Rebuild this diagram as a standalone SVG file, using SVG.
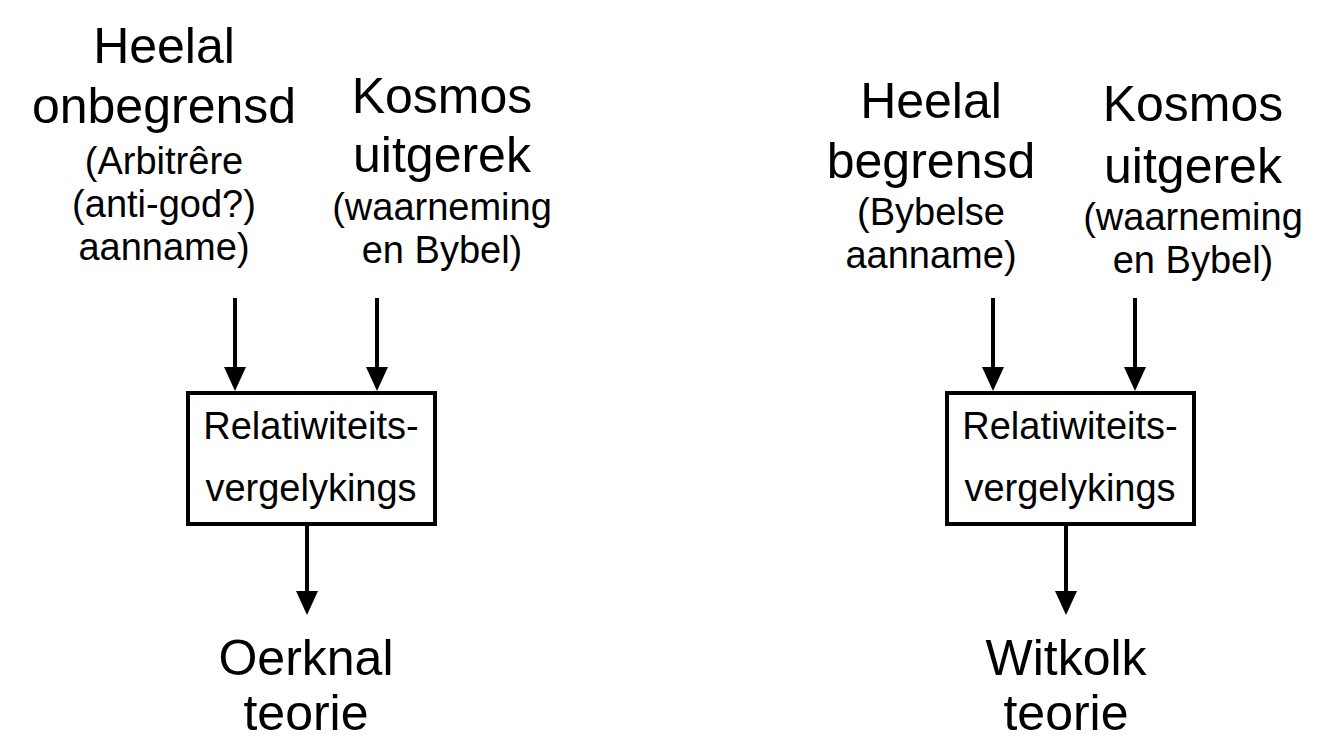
<svg xmlns="http://www.w3.org/2000/svg" width="1328" height="753" viewBox="0 0 1328 753">
  <style>
    text { font-family: "Liberation Sans", Arial, sans-serif; fill: #000; text-anchor: middle; }
    .big { font-size: 50px; }
    .small { font-size: 38px; }
    .box { fill: #fff; stroke: #000; stroke-width: 4; }
    .conn { stroke: #000; stroke-width: 4; fill: none; marker-end: url(#arrow); }
  </style>
  <defs>
    <marker id="arrow" markerUnits="userSpaceOnUse" markerWidth="24" markerHeight="22" viewBox="0 0 24 22" refX="10" refY="11" orient="auto">
      <path d="M0,0 L24,11 L0,22 Z" fill="#000"/>
    </marker>
  </defs>
  <rect width="1328" height="753" fill="#fff"/>

  <g id="connectors">
    <line class="conn" x1="235" y1="298" x2="235" y2="377"/>
    <line class="conn" x1="377" y1="298" x2="377" y2="377"/>
    <line class="conn" x1="307" y1="524" x2="307" y2="601"/>
    <line class="conn" x1="993" y1="298" x2="993" y2="377"/>
    <line class="conn" x1="1135" y1="298" x2="1135" y2="377"/>
    <line class="conn" x1="1066" y1="524" x2="1066" y2="601"/>
  </g>

  <g id="left-heelal">
    <text class="big" x="164" y="63">Heelal</text>
    <text class="big" x="164" y="123">onbegrensd</text>
    <text class="small" x="164" y="174">(Arbitrêre</text>
    <text class="small" x="164" y="217">(anti-god?)</text>
    <text class="small" x="164" y="260">aanname)</text>
  </g>
  <g id="left-kosmos">
    <text class="big" x="442" y="113">Kosmos</text>
    <text class="big" x="442" y="172">uitgerek</text>
    <text class="small" x="442" y="220">(waarneming</text>
    <text class="small" x="442" y="263">en Bybel)</text>
  </g>
  <g id="left-box">
    <rect class="box" x="188" y="393" width="247" height="131"/>
    <text class="small" x="311" y="439">Relatiwiteits-</text>
    <text class="small" x="311" y="501">vergelykings</text>
  </g>
  <g id="left-result">
    <text class="big" x="306" y="675">Oerknal</text>
    <text class="big" x="306" y="730">teorie</text>
  </g>

  <g id="right-heelal">
    <text class="big" x="931" y="118">Heelal</text>
    <text class="big" x="931" y="178">begrensd</text>
    <text class="small" x="931" y="225">(Bybelse</text>
    <text class="small" x="931" y="268">aanname)</text>
  </g>
  <g id="right-kosmos">
    <text class="big" x="1193" y="121">Kosmos</text>
    <text class="big" x="1193" y="183">uitgerek</text>
    <text class="small" x="1193" y="230">(waarneming</text>
    <text class="small" x="1193" y="273">en Bybel)</text>
  </g>
  <g id="right-box">
    <rect class="box" x="947" y="393" width="247" height="131"/>
    <text class="small" x="1070" y="439">Relatiwiteits-</text>
    <text class="small" x="1070" y="501">vergelykings</text>
  </g>
  <g id="right-result">
    <text class="big" x="1066" y="675">Witkolk</text>
    <text class="big" x="1066" y="730">teorie</text>
  </g>
</svg>
